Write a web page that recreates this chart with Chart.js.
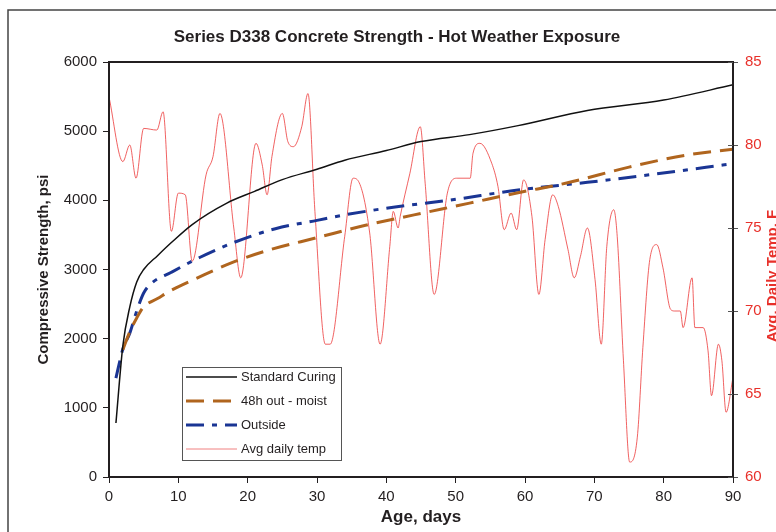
<!DOCTYPE html>
<html>
<head>
  <meta charset="utf-8" />
  <title>Series D338 Concrete Strength</title>
  <script src="https://cdn.jsdelivr.net/npm/chart.js"></script>
  <style>
    body { margin: 0; background: white; }
    #wrap { width: 776px; height: 532px; }
  </style>
</head>
<body>
  <div id="wrap"><canvas id="strengthChart"></canvas></div>

  <script>
    // strength tests (age in days, psi)
    const stdDays = [1, 2, 3, 4, 5, 7, 9, 12, 17, 21, 25, 30, 34, 40, 45, 52, 59, 69, 80, 90];
    const stdPsi  = [780, 1900, 2460, 2820, 3000, 3200, 3390, 3650, 3960, 4130, 4300, 4450, 4580, 4720, 4850, 4950, 5080, 5300, 5450, 5670];

    const moistDays = [2, 3, 4, 5, 7, 9, 13, 18, 23, 30, 37, 44, 52, 59, 66, 75, 83, 90];
    const moistPsi  = [1840, 2100, 2300, 2460, 2580, 2700, 2890, 3110, 3280, 3460, 3640, 3790, 3960, 4110, 4250, 4480, 4650, 4740];

    const outDays = [1, 2, 3, 4, 5, 6, 9, 13, 18, 24, 30, 34, 41, 49, 59, 69, 78, 90];
    const outPsi  = [1430, 1850, 2080, 2400, 2660, 2790, 2960, 3170, 3390, 3590, 3710, 3790, 3900, 4000, 4150, 4260, 4370, 4530];

    // average daily temperature, F
    const tempDays = [0, 2, 3, 3.9, 5, 6.9, 7.8, 9, 10, 11, 12, 14, 15, 16, 18, 19, 21.2, 22.1, 22.8, 23.5, 25, 25.8, 26.6, 27.8, 28.7,
      29.7, 31.2, 31.9, 34, 35.2, 36, 37.6, 39.1, 40.5, 41, 41.7, 42, 43.4, 44.9, 45.6, 46.9, 48.8, 50.2, 52.1, 52.5, 53.5,
      55.2, 56.1, 57, 58, 58.8, 59.8, 61, 62, 62.9, 64, 64.8, 66.2, 67.1, 68, 69, 70.1, 71, 71.8, 72.8, 73.3, 74.2, 75.1,
      76.2, 77, 78, 79, 79.9, 81, 81.6, 82.4, 82.8, 84.1, 84.5, 85.7, 86.4, 86.9, 87.9, 88.4, 89, 90];
    const tempF = [82.9, 79.0, 80.0, 78.0, 81.0, 80.9, 82.0, 74.8, 77.1, 77.0, 73.0, 78.2, 79.3, 81.9, 75.0, 72.0, 80.1, 78.8, 77.0, 79.3, 81.9, 80.2, 79.9, 81.1, 83.1,
      76.0, 68.0, 68.0, 74.5, 78.0, 77.8, 74.7, 68.0, 73.9, 76.0, 75.0, 75.7, 78.3, 81.1, 77.7, 71.0, 77.1, 78.0, 78.0, 79.5, 80.1,
      78.9, 77.5, 74.9, 75.9, 74.9, 77.9, 75.7, 71.0, 74.3, 77.0, 76.3, 73.7, 72.0, 73.3, 75.0, 71.9, 68.0, 73.9, 76.1, 74.5, 67.0, 60.9,
      62.4, 67.8, 73.1, 74.0, 72.6, 70.1, 70.0, 70.0, 69.0, 72.0, 69.0, 69.0, 67.6, 64.9, 68.0, 67.0, 63.9, 66.0];

    const seriesNames = ['Standard Curing', '48h out - moist', 'Outside', 'Avg daily temp'];

    const FONT = '"Liberation Sans", Arial, sans-serif';
    const INK = '#231f20';
    const RED = '#e8302a';

    function pts(xs, ys) {
      return xs.map((x, i) => ({ x: x, y: ys[i] }));
    }

    // frame, title, plot box, inner ticks of right axis, legend
    const decor = {
      id: 'decor',
      beforeDraw(chart) {
        const c = chart.ctx;
        c.save();
        c.fillStyle = 'white';
        c.fillRect(0, 0, chart.width, chart.height);
        c.strokeStyle = '#444';
        c.lineWidth = 1.5;
        c.beginPath();
        c.moveTo(8, chart.height + 2);
        c.lineTo(8, 10);
        c.lineTo(chart.width + 2, 10);
        c.stroke();
        c.fillStyle = INK;
        c.font = 'bold 17px ' + FONT;
        c.textAlign = 'center';
        c.textBaseline = 'middle';
        c.fillText('Series D338 Concrete Strength - Hot Weather Exposure', 397, 37);
        c.restore();
      },
      afterDraw(chart) {
        const c = chart.ctx;
        const a = chart.chartArea;
        c.save();
        c.strokeStyle = INK;
        c.lineWidth = 2;
        c.strokeRect(a.left, a.top, a.right - a.left, a.bottom - a.top);

        const y1 = chart.scales.y1;
        c.strokeStyle = '#555';
        c.lineWidth = 1;
        y1.ticks.forEach(t => {
          const py = Math.round(y1.getPixelForValue(t.value)) + 0.5;
          c.beginPath();
          c.moveTo(a.right - 5, py);
          c.lineTo(a.right, py);
          c.stroke();
        });

        c.fillStyle = RED;
        c.font = 'bold 15px ' + FONT;
        c.textAlign = 'center';
        c.textBaseline = 'middle';
        c.translate(773, 276);
        c.rotate(-Math.PI / 2);
        c.fillText('Avg. Daily Temp. F', 0, 0);
        c.restore();

        // legend
        const lx = 182, ly = 367, lw = 159, lh = 93;
        c.save();
        c.fillStyle = 'white';
        c.fillRect(lx, ly, lw, lh);
        c.strokeStyle = '#555';
        c.lineWidth = 1;
        c.strokeRect(lx + 0.5, ly + 0.5, lw, lh);
        c.font = '13px ' + FONT;
        c.textBaseline = 'middle';
        const rows = [377, 401, 425, 449];
        chart.data.datasets.forEach((ds, i) => {
          const ry = rows[i];
          c.strokeStyle = i === 3 ? '#f08080' : ds.borderColor;
          c.lineWidth = ds.borderWidth;
          c.setLineDash(ds.borderDash || []);
          c.beginPath();
          c.moveTo(186, ry);
          c.lineTo(237, ry);
          c.stroke();
          c.setLineDash([]);
          c.fillStyle = INK;
          c.fillText(ds.label, 241, ry);
        });
        c.restore();
      }
    };

    const plain = v => String(v);

    const ctx = document.getElementById('strengthChart').getContext('2d');
    new Chart(ctx, {
      type: 'line',
      data: {
        datasets: [
          {
            label: seriesNames[0],
            data: pts(stdDays, stdPsi),
            borderColor: '#111111',
            borderWidth: 1.5,
            pointRadius: 0,
            cubicInterpolationMode: 'monotone',
            yAxisID: 'y'
          },
          {
            label: seriesNames[1],
            data: pts(moistDays, moistPsi),
            borderColor: '#b0651e',
            borderWidth: 3,
            borderDash: [18, 9],
            pointRadius: 0,
            cubicInterpolationMode: 'monotone',
            yAxisID: 'y'
          },
          {
            label: seriesNames[2],
            data: pts(outDays, outPsi),
            borderColor: '#1a3594',
            borderWidth: 3,
            borderDash: [18, 8, 5, 8],
            pointRadius: 0,
            cubicInterpolationMode: 'monotone',
            yAxisID: 'y'
          },
          {
            label: seriesNames[3],
            data: pts(tempDays, tempF),
            borderColor: 'rgba(235,45,45,0.75)',
            borderWidth: 1,
            pointRadius: 0,
            cubicInterpolationMode: 'monotone',
            yAxisID: 'y1'
          }
        ]
      },
      options: {
        responsive: true,
        maintainAspectRatio: false,
        animation: false,
        layout: { padding: { top: 62, left: 0, right: 0, bottom: 0 } },
        plugins: {
          legend: { display: false },
          title: { display: false },
          tooltip: { enabled: false }
        },
        scales: {
          x: {
            type: 'linear',
            min: 0,
            max: 90,
            ticks: { stepSize: 10, color: INK, font: { family: FONT, size: 15 }, padding: 5, maxRotation: 0, callback: plain },
            grid: { drawOnChartArea: false, drawTicks: true, tickLength: 6, color: INK },
            border: { color: INK, width: 2 },
            title: { display: true, text: 'Age, days', color: INK, font: { family: FONT, size: 17, weight: 'bold' }, padding: { top: 0, bottom: 4 } },
            afterFit(s) { s.height = 55; }
          },
          y: {
            position: 'left',
            min: 0,
            max: 6000,
            ticks: { stepSize: 1000, color: INK, font: { family: FONT, size: 15 }, padding: 6, callback: plain },
            grid: { drawOnChartArea: false, drawTicks: true, tickLength: 6, color: INK },
            border: { color: INK, width: 2 },
            title: { display: true, text: 'Compressive Strength, psi', color: INK, font: { family: FONT, size: 15, weight: 'bold' }, padding: { top: 35, bottom: 0 } },
            afterFit(s) { s.width = 109; }
          },
          y1: {
            position: 'right',
            min: 60,
            max: 85,
            ticks: { stepSize: 5, color: RED, font: { family: FONT, size: 15 }, padding: 7, callback: plain },
            grid: { drawOnChartArea: false, drawTicks: true, tickLength: 5, color: '#555' },
            border: { color: INK, width: 2 },
            afterFit(s) { s.width = 43; }
          }
        }
      },
      plugins: [decor]
    });
  </script>
</body>
</html>
